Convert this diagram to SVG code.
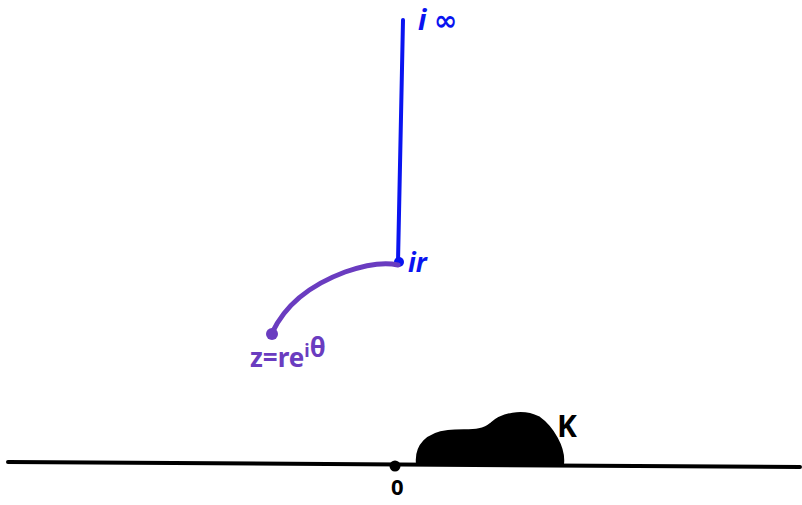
<svg xmlns="http://www.w3.org/2000/svg" width="802" height="505" viewBox="0 0 802 505">
<style>
.blue{stroke:#0a14f0;fill:none;stroke-width:4;stroke-linecap:round}
.purple{stroke:#6a3cc0;fill:none;stroke-width:5;stroke-linecap:round}
.blk{stroke:#000;fill:none;stroke-width:4;stroke-linecap:round}
.t{font-family:"Noto Sans","DejaVu Sans",sans-serif;font-weight:bold}
</style>
<rect width="802" height="505" fill="#fff"/>
<g id="axis">
<path class="blk" d="M8 462 L800 467"/>
<circle cx="395" cy="466" r="5.5" fill="#000"/>
<text class="t" x="391" y="495" font-size="22" font-weight="normal" fill="#000">0</text>
</g>
<g id="K">
<path d="M418 464 C416 446 428 434 448 432 C468 430 480 434 492 424 C502 415 522 410 538 418 C552 428 564 448 562 464 Z" fill="#000" stroke="#000" stroke-width="4" stroke-linejoin="round"/>
<text class="t" x="557" y="437" font-size="30" font-weight="normal" fill="#000">K</text>
</g>
<g id="imag-ray">
<path class="blue" d="M403 20 L398 262"/>
<circle cx="399" cy="262" r="5" fill="#0a14f0"/>
<text class="t" x="418" y="30" font-size="28" font-style="italic" fill="#0a14f0">i ∞</text>
<text class="t" x="408" y="272" font-size="26" font-style="italic" fill="#0a14f0">ir</text>
</g>
<g id="arc">
<path class="purple" d="M398 265 C385 262 365 265 345 272 C310 285 285 305 272 333"/>
<circle cx="272" cy="334" r="6" fill="#6a3cc0"/>
<text class="t" x="250" y="367" font-size="26" fill="#6a3cc0">z=re<tspan dy="-10" font-size="18">i</tspan><tspan dy="0" font-size="26">θ</tspan></text>
</g>
</svg>
